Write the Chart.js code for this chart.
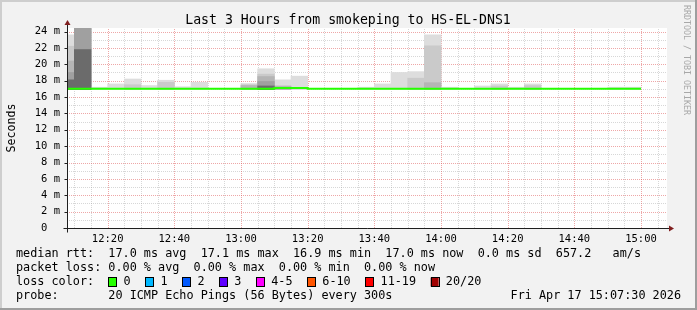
<!DOCTYPE html>
<html>
<head>
<meta charset="utf-8">
<script src="https://cdn.jsdelivr.net/npm/chart.js@4.4.1/dist/chart.umd.min.js"></script>
<style>
  html, body { margin: 0; padding: 0; background: #f2f2f2; }
  canvas { display: block; }
</style>
</head>
<body>
<canvas id="graph" width="697" height="310"></canvas>
<script>
// --- values (ms) ---
// each 5 min slot is drawn over (end - 5 min, end]
const slotEnds = ['12:10', '12:15', '12:20', '12:25', '12:30', '12:35', '12:40', '12:45', '12:50', '12:55',
                  '13:00', '13:05', '13:10', '13:15', '13:20', '13:25', '13:30', '13:35', '13:40', '13:45',
                  '13:50', '13:55', '14:00', '14:05', '14:10', '14:15', '14:20', '14:25', '14:30', '14:35',
                  '14:40', '14:45', '14:50', '14:55', '15:00'];

const medianRtt = [17.0, 17.0, 17.0, 17.0, 17.0, 17.0, 17.0, 17.0, 17.0, 17.0,
                   17.0, 17.0, 17.0, 17.0, 17.1, 17.1, 17.0, 17.0, 17.0, 17.0,
                   17.0, 17.0, 17.0, 17.0, 17.0, 17.0, 17.0, 17.0, 17.0, 17.0,
                   17.0, 17.0, 17.0, 17.0, 17.0];

// smoke: upper edge of each grey band, outermost (max ping) first
const smokeMax = [23.6, 24.45, 17.2, 17.6, 18.2, 17.4, 18.05, 17.25, 17.8, null,
                  null, 17.65, 19.45, 18.1, 18.55, null, null, null, 17.2, 17.6,
                  19.0, 19.1, 23.6, 17.2, null, 17.35, 17.6, 17.2, 17.6, null,
                  null, null, null, 17.2, 17.2];
const smokeP1 = [22.2, 24.45, null, null, 17.5, null, 17.8, null, null, null,
                 null, 17.5, 18.8, 17.4, null, null, null, null, null, null,
                 null, 18.3, 22.25, null, null, null, 17.35, null, 17.4, null,
                 null, null, null, null, null];
const smokeP2 = [20.4, 24.45, null, null, null, null, null, null, null, null,
                 null, 17.4, 18.5, 17.3, null, null, null, null, null, null,
                 null, null, 17.75, null, null, null, null, null, null, null,
                 null, null, null, null, null];
const smokeP3 = [19.0, 24.45, null, null, null, null, null, null, null, null,
                 null, null, 17.9, null, null, null, null, null, null, null,
                 null, null, null, null, null, null, null, null, null, null,
                 null, null, null, null, null];
const smokeP4 = [18.1, 21.8, null, null, null, null, null, null, null, null,
                 null, null, 17.35, null, null, null, null, null, null, null,
                 null, null, null, null, null, null, null, null, null, null,
                 null, null, null, null, null];
const smokeFloor = 16.9;

const yTickValues = [0, 2, 4, 6, 8, 10, 12, 14, 16, 18, 20, 22, 24];
const yTickLabels = ['0  ', '2 m', '4 m', '6 m', '8 m', '10 m', '12 m', '14 m', '16 m', '18 m', '20 m', '22 m', '24 m'];
const xTickLabels = ['12:20', '12:40', '13:00', '13:20', '13:40', '14:00', '14:20', '14:40', '15:00'];

const lossLabels = ['0', '1', '2', '3', '4-5', '6-10', '11-19', '20/20'];
const lossColors = ['#26ff00', '#00b8ff', '#0059ff', '#5e00ff', '#ff00ff', '#ff5500', '#ff0000', '#a10000'];

const legendRows = [
    'median rtt:  17.0 ms avg  17.1 ms max  16.9 ms min  17.0 ms now  0.0 ms sd  657.2   am/s',
    'packet loss: 0.00 % avg  0.00 % max  0.00 % min  0.00 % now',
    'loss color:',
    'probe:       20 ICMP Echo Pings (56 Bytes) every 300s'
];
const stampText = 'Fri Apr 17 15:07:30 2026';
const titleText = 'Last 3 Hours from smokeping to HS-EL-DNS1';

// --- helpers ---
const MONO = '"DejaVu Sans Mono", monospace';
const X_MIN = 7.8, X_MAX = 187.8;   // minutes after 12:00
const Y_MAX = 24.43;

function toMinutes(hhmm) {
    const [h, m] = hhmm.split(':').map(Number);
    return (h - 12) * 60 + m;
}
function toLabel(min) {
    const h = 12 + Math.floor(min / 60);
    const m = Math.round(min % 60);
    return h + ':' + String(m).padStart(2, '0');
}

const slotEndMin = slotEnds.map(toMinutes);
const slotMid = slotEndMin.map(t => t - 2.5);
const xMajor = xTickLabels.map(toMinutes);

const bandColors = ['#6b6b6b', '#a0a0a0', '#b5b5b5', '#cacaca', '#dddddd'];
const bands = [smokeP4, smokeP3, smokeP2, smokeP1, smokeMax];

const smokeSets = bands.map((arr, k) => ({
    type: 'bar',
    order: k + 1,
    grouped: false,
    barPercentage: 1,
    categoryPercentage: 1,
    borderWidth: 0,
    backgroundColor: bandColors[k],
    data: arr.map((v, i) => v === null ? null : { x: slotMid[i], y: [smokeFloor, v] }).filter(Boolean)
}));

// step line: value holds from slot start to slot end
const medianPoints = medianRtt.map((v, i) => ({ x: slotEndMin[i] - 5, y: v }));
medianPoints.push({ x: slotEndMin[slotEndMin.length - 1], y: medianRtt[medianRtt.length - 1] });

const rrdLook = {
    id: 'rrdLook',
    beforeDraw(chart) {
        const { ctx, chartArea: a } = chart;
        ctx.save();
        ctx.fillStyle = '#f2f2f2';
        ctx.fillRect(0, 0, 697, 310);
        ctx.fillStyle = '#cecece';
        ctx.fillRect(0, 0, 697, 2);
        ctx.fillRect(0, 0, 2, 310);
        ctx.fillStyle = '#9e9e9e';
        ctx.fillRect(0, 308, 697, 2);
        ctx.fillRect(695, 0, 2, 310);
        ctx.fillStyle = '#ffffff';
        ctx.fillRect(a.left, a.top, a.right - a.left, a.bottom - a.top);
        ctx.restore();
    },
    beforeDatasetsDraw(chart) {
        const { ctx, chartArea: a, scales: { x, y } } = chart;
        ctx.save();
        ctx.lineWidth = 1;
        ctx.setLineDash([1, 1]);
        // minor grid
        ctx.strokeStyle = 'rgba(150,150,150,0.38)';
        ctx.beginPath();
        for (let t = Math.ceil(X_MIN / 5) * 5; t <= X_MAX; t += 5) {
            if (xMajor.includes(t)) continue;
            const px = Math.round(x.getPixelForValue(t)) + 0.5;
            ctx.moveTo(px, a.bottom); ctx.lineTo(px, a.top);
        }
        for (let v = 1; v <= Y_MAX; v += 1) {
            if (yTickValues.includes(v)) continue;
            const py = Math.round(y.getPixelForValue(v)) + 0.5;
            ctx.moveTo(a.left, py); ctx.lineTo(a.right, py);
        }
        ctx.stroke();
        // major grid
        ctx.strokeStyle = 'rgba(222,80,80,0.5)';
        ctx.beginPath();
        xMajor.forEach(t => {
            const px = Math.round(x.getPixelForValue(t)) + 0.5;
            ctx.moveTo(px, a.bottom); ctx.lineTo(px, a.top);
        });
        yTickValues.forEach(v => {
            if (v === 0) return;
            const py = Math.round(y.getPixelForValue(v)) + 0.5;
            ctx.moveTo(a.left, py); ctx.lineTo(a.right, py);
        });
        ctx.stroke();
        ctx.restore();
    },
    afterDatasetsDraw(chart) {
        const { ctx, chartArea: a, scales: { y } } = chart;
        const ax = Math.round(a.left) + 0.5;
        const ay = Math.round(a.bottom) + 0.5;
        ctx.save();
        ctx.lineWidth = 1;
        ctx.strokeStyle = '#1f1f1f';
        ctx.beginPath();
        ctx.moveTo(ax - 4, ay); ctx.lineTo(a.right + 4, ay);
        ctx.moveTo(ax, ay + 4); ctx.lineTo(ax, a.top - 4);
        // little ticks on the y axis
        yTickValues.forEach(v => {
            const py = Math.round(y.getPixelForValue(v)) + 0.5;
            ctx.moveTo(ax - 3, py); ctx.lineTo(ax, py);
        });
        ctx.stroke();
        // arrows
        ctx.fillStyle = '#801f1f';
        ctx.beginPath();
        ctx.moveTo(a.right + 7, ay); ctx.lineTo(a.right + 2, ay - 3); ctx.lineTo(a.right + 2, ay + 3);
        ctx.closePath(); ctx.fill();
        ctx.beginPath();
        ctx.moveTo(ax, a.top - 8); ctx.lineTo(ax - 3, a.top - 3); ctx.lineTo(ax + 3, a.top - 3);
        ctx.closePath(); ctx.fill();
        ctx.restore();
    },
    afterDraw(chart) {
        const { ctx } = chart;
        ctx.save();
        ctx.fillStyle = '#000';
        // title
        ctx.font = '13.2px ' + MONO;
        ctx.textAlign = 'center';
        ctx.textBaseline = 'alphabetic';
        ctx.fillText(titleText, 348, 24);
        // unit label
        ctx.save();
        ctx.translate(15, 128);
        ctx.rotate(-Math.PI / 2);
        ctx.font = '11.6px ' + MONO;
        ctx.textAlign = 'center';
        ctx.fillText('Seconds', 0, 0);
        ctx.restore();
        // watermark
        ctx.save();
        ctx.translate(684, 5);
        ctx.rotate(Math.PI / 2);
        ctx.font = '8.3px ' + MONO;
        ctx.fillStyle = '#a8a8a8';
        ctx.textAlign = 'left';
        ctx.fillText('RRDTOOL / TOBI OETIKER', 0, 0);
        ctx.restore();
        // legend
        ctx.font = '11.8px ' + MONO;
        ctx.textAlign = 'left';
        ctx.textBaseline = 'middle';
        const rowY = [254, 268, 282, 296];
        legendRows.forEach((row, i) => ctx.fillText(row, 16, rowY[i]));
        ctx.textAlign = 'right';
        ctx.fillText(stampText, 681, rowY[3]);
        ctx.textAlign = 'left';
        let bx = 108.4;
        lossLabels.forEach((lab, i) => {
            ctx.fillStyle = lossColors[i];
            ctx.fillRect(bx, rowY[2] - 4.5, 8, 9);
            ctx.strokeStyle = '#000';
            ctx.lineWidth = 1;
            ctx.strokeRect(Math.round(bx) + 0.5, Math.round(rowY[2] - 5) + 0.5, 8, 9);
            ctx.fillStyle = '#000';
            const tx = bx + 15.2;
            ctx.fillText(lab, tx, rowY[2]);
            bx = tx + ctx.measureText(lab).width + 14.6;
        });
        ctx.restore();
    }
};

new Chart(document.getElementById('graph'), {
    type: 'bar',
    data: {
        datasets: [
            {
                type: 'line',
                order: 0,
                data: medianPoints,
                stepped: 'after',
                borderColor: lossColors[0],
                borderWidth: 2,
                pointRadius: 0,
                fill: false
            },
            ...smokeSets
        ]
    },
    options: {
        responsive: false,
        devicePixelRatio: 1,
        animation: false,
        layout: { padding: { top: 28, right: 30, left: 0, bottom: 0 } },
        plugins: { legend: { display: false }, tooltip: { enabled: false }, title: { display: false } },
        scales: {
            x: {
                type: 'linear',
                min: X_MIN,
                max: X_MAX,
                offset: false,
                afterBuildTicks: s => { s.ticks = xMajor.map(v => ({ value: v })); },
                afterFit: s => { s.height = 82; },
                grid: { display: false, drawTicks: false, offset: false },
                border: { display: false },
                ticks: {
                    autoSkip: false,
                    maxRotation: 0,
                    padding: 5,
                    color: '#000',
                    font: { family: 'DejaVu Sans Mono', size: 10.5 },
                    callback: v => toLabel(v)
                }
            },
            y: {
                type: 'linear',
                min: 0,
                max: Y_MAX,
                afterBuildTicks: s => { s.ticks = yTickValues.map(v => ({ value: v })); },
                afterFit: s => { s.width = 67; },
                grid: { display: false, drawTicks: false },
                border: { display: false },
                ticks: {
                    autoSkip: false,
                    padding: 7,
                    color: '#000',
                    font: { family: 'DejaVu Sans Mono', size: 10.5 },
                    callback: v => yTickLabels[yTickValues.indexOf(v)]
                }
            }
        }
    },
    plugins: [rrdLook]
});
</script>
</body>
</html>
